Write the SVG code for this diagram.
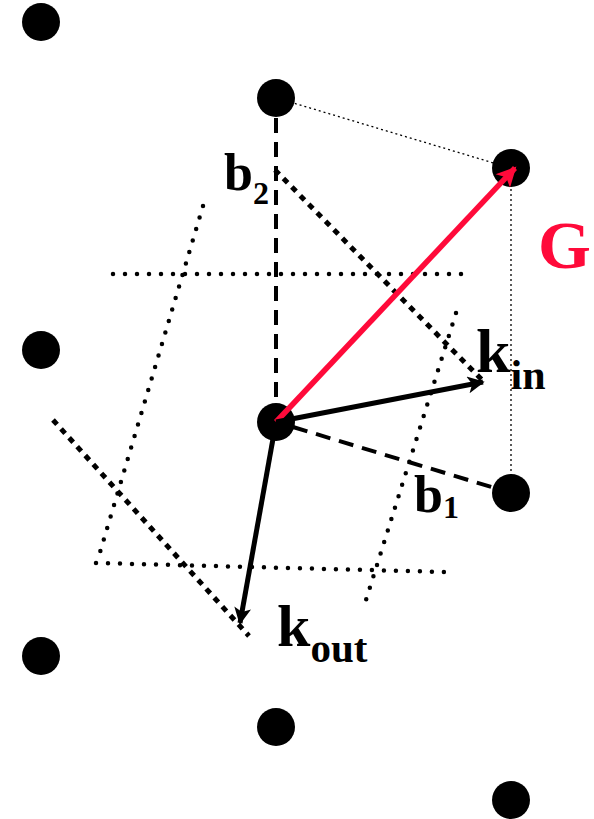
<svg xmlns="http://www.w3.org/2000/svg" width="594" height="819" viewBox="0 0 594 819">
<defs>
<style>
.pt{fill:#000}
.lbl{font-family:"Liberation Serif","Times New Roman",serif;font-weight:bold;fill:#000}
.thin{stroke:#000;stroke-width:1.3;stroke-dasharray:2 3;fill:none}
.dash{stroke:#000;stroke-width:4;stroke-dasharray:15 9;fill:none}
.rdot{stroke:#000;stroke-width:4.5;stroke-linecap:round;stroke-dasharray:0 12;fill:none}
.sq{stroke:#000;stroke-width:5;stroke-dasharray:6 6;fill:none}
.arr{stroke:#000;stroke-width:5;fill:none}
.red{stroke:#ff0a3a;stroke-width:5.5;fill:none}
</style>
<marker id="ah" viewBox="0 0 10 10" refX="9" refY="5" markerWidth="4.4" markerHeight="3.4" markerUnits="strokeWidth" orient="auto">
<path d="M0,0 L10,5 L0,10 L2.5,5 z" fill="#000"/>
</marker>
<marker id="ahr" viewBox="0 0 10 10" refX="9" refY="5" markerWidth="4.5" markerHeight="3.6" markerUnits="strokeWidth" orient="auto">
<path d="M0,0 L10,5 L0,10 L2.5,5 z" fill="#ff0a3a"/>
</marker>
</defs>
<g id="p1"><circle class="pt" cx="41" cy="22" r="19"/></g>
<g id="p2"><circle class="pt" cx="276" cy="98" r="19"/></g>
<g id="p3"><circle class="pt" cx="511" cy="168" r="19"/></g>
<g id="p4"><circle class="pt" cx="41" cy="350" r="19"/></g>
<g id="p5"><circle class="pt" cx="276" cy="422" r="19"/></g>
<g id="p6"><circle class="pt" cx="511" cy="493" r="19"/></g>
<g id="p7"><circle class="pt" cx="41" cy="656" r="19"/></g>
<g id="p8"><circle class="pt" cx="276" cy="727" r="19"/></g>
<g id="p9"><circle class="pt" cx="511" cy="800" r="19"/></g>
<g id="connectors">
<line class="thin" x1="290" y1="102" x2="497" y2="164"/>
<line class="thin" x1="511" y1="184" x2="511" y2="476"/>
<line class="dash" x1="276" y1="118" x2="276" y2="405"/>
<line class="dash" x1="293" y1="427" x2="498" y2="489"/>
<line class="rdot" x1="113" y1="274" x2="462" y2="274"/>
<line class="rdot" x1="203" y1="206" x2="98" y2="559"/>
<line class="rdot" x1="96" y1="563" x2="445" y2="572"/>
<line class="rdot" x1="456" y1="313" x2="366" y2="600"/>
<line class="sq" x1="275" y1="170" x2="485" y2="383"/>
<line class="sq" x1="53" y1="420" x2="249" y2="636"/>
<line class="red" x1="276" y1="422" x2="515" y2="168" marker-end="url(#ahr)"/>
<line class="arr" x1="276" y1="422" x2="483" y2="382" marker-end="url(#ah)"/>
<line class="arr" x1="276" y1="422" x2="240" y2="623" marker-end="url(#ah)"/>
</g>
<g id="label-b2"><text class="lbl" x="224" y="190" font-size="52">b<tspan font-size="32" dy="14">2</tspan></text></g>
<g id="label-b1"><text class="lbl" x="414" y="512" font-size="52">b<tspan font-size="32" dy="6">1</tspan></text></g>
<g id="label-kin"><text class="lbl" x="476" y="372" font-size="62">k<tspan font-size="42" dy="17">in</tspan></text></g>
<g id="label-kout"><text class="lbl" x="277" y="646" font-size="60">k<tspan font-size="41" dy="16">out</tspan></text></g>
<g id="label-G"><text class="lbl" x="538" y="268" font-size="68" style="fill:#ff0a3a">G</text></g>
</svg>
